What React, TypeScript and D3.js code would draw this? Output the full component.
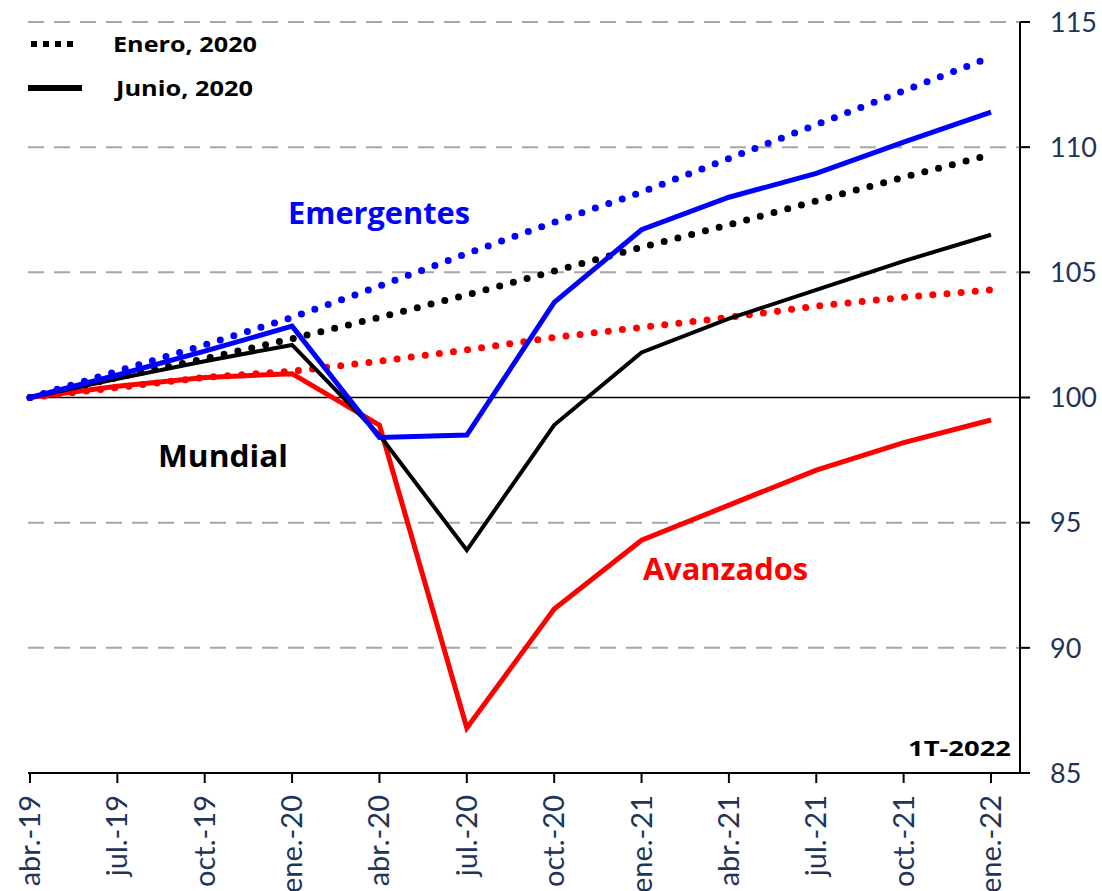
import React from "react";
import * as d3 from "d3";

const categories = ["abr.-19","jul.-19","oct.-19","ene.-20","abr.-20","jul.-20","oct.-20","ene.-21","abr.-21","jul.-21","oct.-21","ene.-22"];
const emergentesJun = [100, 100.9, 101.85, 102.85, 98.4, 98.5, 103.8, 106.7, 108.0, 108.95, 110.2, 111.4];
const emergentesEne = [100, 101.05, 102.1, 103.2, 104.45, 105.75, 107.0, 108.2, 109.55, 110.9, 112.25, 113.6];
const mundialJun = [100, 100.75, 101.45, 102.1, 98.5, 93.9, 98.9, 101.8, 103.15, 104.3, 105.45, 106.5];
const mundialEne = [100, 100.8, 101.55, 102.35, 103.2, 104.1, 105.05, 106.0, 106.9, 107.85, 108.8, 109.7];
const avanzadosJun = [100, 100.45, 100.8, 100.95, 98.9, 86.8, 91.55, 94.3, 95.7, 97.1, 98.2, 99.1];
const avanzadosEne = [100, 100.4, 100.8, 101.05, 101.45, 101.9, 102.4, 102.8, 103.2, 103.65, 104.0, 104.3];
const yTicks = [85, 90, 95, 100, 105, 110, 115];

const FONT = "Lato, 'Open Sans', sans-serif";
const BOLD = "'Open Sans', Lato, sans-serif";

export default function App() {
  const x = d3.scalePoint<string>().domain(categories).range([30, 991]);
  const y = d3.scaleLinear().domain([85, 115]).range([773, 22]);
  const line = d3.line<number>().x((_, i) => x(categories[i]) as number).y(d => y(d));
  const left = 28, right = 1020;

  const series = [
    { v: avanzadosEne, c: "#FF0000", dotted: true },
    { v: mundialEne, c: "#000000", dotted: true },
    { v: emergentesEne, c: "#0000FF", dotted: true },
    { v: avanzadosJun, c: "#FF0000", dotted: false, w: 5 },
    { v: mundialJun, c: "#000000", dotted: false, w: 4 },
    { v: emergentesJun, c: "#0000FF", dotted: false, w: 5 },
  ];

  return (
    <svg width={1102} height={891} style={{ position: "absolute", left: 0, top: 0, background: "#fff" }}>
      {yTicks.filter(t => t !== 85 && t !== 100).map(t => (
        <line key={t} x1={left} x2={right} y1={y(t)} y2={y(t)} stroke="#a6a6a6" strokeWidth={2} strokeDasharray="16,10" />
      ))}
      <line x1={left} x2={right} y1={y(100)} y2={y(100)} stroke="#000" strokeWidth={1.5} />
      {series.map((s, i) => (
        <path key={i} d={line(s.v) || ""} fill="none" stroke={s.c}
          strokeWidth={s.dotted ? 7 : s.w}
          strokeDasharray={s.dotted ? "0,14.2" : undefined}
          strokeLinecap={s.dotted ? "round" : "butt"}
          strokeLinejoin="miter" />
      ))}
      {/* axes */}
      <line x1={left} x2={right} y1={773} y2={773} stroke="#000" strokeWidth={2} />
      <line x1={right} x2={right} y1={y(115)} y2={773} stroke="#000" strokeWidth={2} />
      {yTicks.map(t => (
        <g key={t}>
          <line x1={right} x2={right + 10} y1={y(t)} y2={y(t)} stroke="#000" strokeWidth={2} />
          <text x={1050} y={y(t)} dy="0.36em" fontFamily={FONT} fontSize={27} fill="#1f3458">{t}</text>
        </g>
      ))}
      {categories.map(c => (
        <g key={c}>
          <line x1={x(c)} x2={x(c)} y1={773} y2={783} stroke="#000" strokeWidth={2} />
          <text transform={`translate(${(x(c) as number) + 10},${795}) rotate(-90)`} textAnchor="end"
            fontFamily={FONT} fontSize={29} fill="#1f3458">{c}</text>
        </g>
      ))}
      {/* legend */}
      <line x1={31} x2={79} y1={44} y2={44} stroke="#000" strokeWidth={6} strokeDasharray="6,6" />
      <text x={113} y={44} dy="0.36em" fontFamily={BOLD} fontSize={22} fontWeight="bold"
        textLength={144} lengthAdjust="spacingAndGlyphs">Enero, 2020</text>
      <line x1={28} x2={82} y1={88} y2={88} stroke="#000" strokeWidth={6} />
      <text x={116} y={88} dy="0.36em" fontFamily={BOLD} fontSize={22} fontWeight="bold"
        textLength={137} lengthAdjust="spacingAndGlyphs">Junio, 2020</text>
      {/* labels */}
      <text x={288} y={213} dy="0.36em" fontFamily={BOLD} fontSize={30} fontWeight="bold" fill="#0000FF"
        textLength={182} lengthAdjust="spacingAndGlyphs">Emergentes</text>
      <text x={158} y={456} dy="0.36em" fontFamily={BOLD} fontSize={30} fontWeight="bold" fill="#000"
        textLength={130} lengthAdjust="spacingAndGlyphs">Mundial</text>
      <text x={643} y={569} dy="0.36em" fontFamily={BOLD} fontSize={30} fontWeight="bold" fill="#FF0000"
        textLength={165} lengthAdjust="spacingAndGlyphs">Avanzados</text>
      <text x={908} y={748} dy="0.36em" fontFamily={BOLD} fontSize={22} fontWeight="bold"
        textLength={103} lengthAdjust="spacingAndGlyphs">1T-2022</text>
    </svg>
  );
}
